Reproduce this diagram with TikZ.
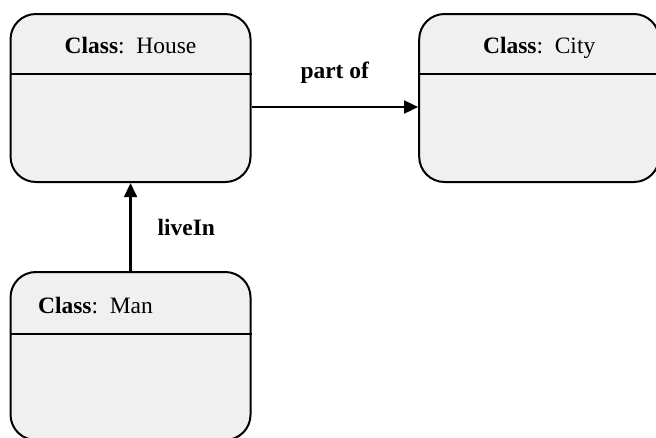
\documentclass[tikz,border=0pt]{standalone}
\usepackage{fontspec}
\setmainfont{Liberation Serif}
\usepackage{tikz}
\usetikzlibrary{positioning, arrows.meta}

\begin{document}
\begin{tikzpicture}[>={Triangle[length=10.5pt,width=9.5pt]},thick,
    font=\fontsize{17.6}{21}\selectfont,
    classbox/.style={draw,line width=1.5pt,fill=gray!12,rounded corners=19pt,
        minimum width=180pt,minimum height=126pt},
    title/.style={anchor=base,inner sep=0pt},
    divider/.style={line width=1.5pt},
    assoc/.style={->,line width=1.9pt},
    node distance=125pt]
    \useasboundingbox (0,0) rectangle (492pt,-327.75pt);

    \node[classbox] (house) at (97.9pt,-73.5pt) {};
    \node[classbox] (city) [right=of house] {};
    \node[classbox] (man) [below=66pt of house] {};

    % class titles
    \node[title] (houseTitle) at ([yshift=-30pt]house.north) {\textbf{Class}:\ \ House};
    \node[title] (cityTitle) at ([yshift=-30pt]city.north) {\textbf{Class}:\ \ City};
    \node[title,anchor=base west] (manTitle) at ([xshift=21pt,yshift=-31.5pt]man.north west) {\textbf{Class}:\ \ Man};

    % header lines
    \draw[divider] ([yshift=-46pt]house.north west) -- ([yshift=-46pt]house.north east);
    \draw[divider] ([yshift=-46pt]city.north west) -- ([yshift=-46pt]city.north east);
    \draw[divider] ([yshift=-47pt]man.north west) -- ([yshift=-47pt]man.north east);

    \path ([yshift=-6.75pt]house.east) edge[assoc] node[above=13pt] {\textbf{part of}} ([yshift=-6.75pt]city.west)
          (man) edge[assoc] node[right=16pt] {\textbf{liveIn}} (house);
\end{tikzpicture}
\end{document}
